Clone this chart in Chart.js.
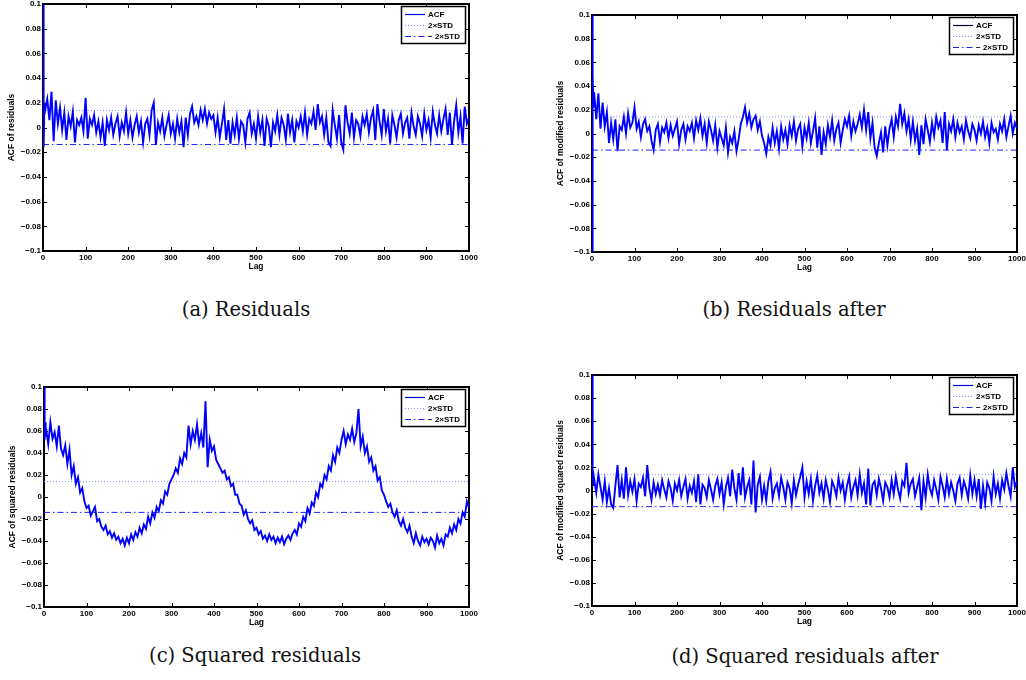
<!DOCTYPE html>
<html>
<head>
<meta charset="utf-8">
<script src="https://cdn.jsdelivr.net/npm/chart.js@4.4.1/dist/chart.umd.min.js"></script>
<style>
  body { margin: 0; background: #fff; width: 1026px; height: 680px; position: relative; overflow: hidden; }
  canvas { position: absolute; }
  .cap { position: absolute; font-family: "DejaVu Serif", serif; font-size: 19.5px; color: #111; white-space: nowrap; transform: translate(-50%, -50%); }
</style>
</head>
<body>
<canvas id="chartA"></canvas>
<canvas id="chartB"></canvas>
<canvas id="chartC"></canvas>
<canvas id="chartD"></canvas>
<script>
// ACF values, in units of 0.001
// lags 0..4 one by one, then every 5th lag up to 1000
const headLags = [0, 1, 2, 3, 4];
const LAG_STEP = 5;
const MAX_LAG = 1000;
const UNIT = 0.001;

const acfResid = [1000, 18, -16, 12, 20,
  14, 23, 6, 29, -11, 22, 3, 16, -2, 12,
  -10, 9, 1, 13, -12, 6, 2, 8, -3, 24,
  -9, 7, 2, 10, -4, 5, -8, 4, -15, 6,
  -2, 8, -6, 3, 9, -7, 4, -3, 12, -5,
  6, -8, 2, 9, -4, 5, -12, 3, 7, -6,
  14, 20, -14, 4, -3, 8, -7, 2, 10, -5,
  3, -9, 7, -4, 5, -16, 8, -6, 11, 17,
  4, 9, 2, 14, 6, 15, 3, 12, 7, 10,
  -4, 8, -8, 3, 15, -10, 6, -13, 4, -6,
  8, -9, 5, 2, -12, 7, 12, -5, 3, -9,
  9, -4, 6, -15, 7, 1, -16, 4, -3, 10,
  -6, 8, 2, -10, 11, -4, 6, -12, 5, 0,
  9, -3, 12, -6, 7, 3, 13, -2, 19, 4,
  9, -6, 8, -12, -15, 14, 2, -9, 10, -12,
  -18, 18, 4, -5, 12, -8, 6, 3, -7, 9,
  2, 11, -4, 8, 14, -10, 19, 5, -6, 15,
  -3, 7, -13, 10, 2, -8, 6, 11, -5, 4,
  8, -9, 12, 1, -6, 9, 3, -7, 11, -2,
  6, -8, 13, 2, -5, 10, -3, 7, 15, -6,
  12, -14, 5, 18, -4, 9, -13, 17, 3, 8];

const acfResidAfter = [1000, -300, 48, 30, 22,
  35, 12, 34, 4, 26, 6, 18, -8, 9, -5,
  12, -15, 6, 3, 14, 0, 17, 5, 9, 22,
  4, 10, -3, 8, 12, 2, 6, -6, -14, 3,
  8, -7, 5, 1, 9, -4, 7, -2, 4, 10,
  -9, 3, 8, -5, 6, 2, 9, -4, 11, 3,
  13, -2, 8, -8, 10, 3, -6, 7, -12, 2,
  -4, -10, 5, -16, -3, -8, 2, -15, -5, 8,
  14, 22, 9, 17, 5, 12, 15, 3, 10, -2,
  -8, -17, -3, -10, 5, -8, 2, -13, 6, -5,
  3, -9, 7, -2, 10, -6, 4, 8, -11, 5,
  -4, 9, -8, 2, 13, -12, 6, -18, 1, -9,
  7, -3, 11, -6, 4, 9, -8, 3, 12, 6,
  15, -2, 10, 2, 8, 16, 5, 20, 3, 18,
  -4, 9, -12, -19, -8, 1, -16, 6, -10, 4,
  12, -3, 14, 6, 25, 8, 17, 2, 12, -5,
  10, -6, 4, -18, 7, -9, 12, 3, -7, 9,
  -2, 14, 5, 11, -8, 18, -14, 8, 2, 12,
  -3, 9, 1, 6, -5, 11, 2, -4, 8, 3,
  -6, 7, 0, 10, -3, 5, -8, 9, 1, 4,
  -5, 8, 2, 12, -3, 6, 15, 0, 9, 4];

const acfSquared = [1000, 60, 52, 68, 55,
  62, 48, 68, 53, 59, 46, 65, 44, 38, 47,
  30, 43, 20, 28, 12, 18, 4, 8, -4, -10,
  -8, -17, -13, -9, -22, -20, -27, -30, -26, -34,
  -31, -37, -33, -39, -36, -42, -38, -44, -37, -42,
  -34, -39, -32, -36, -28, -33, -25, -29, -18, -24,
  -14, -19, -9, -13, -3, -6, 5, 2, 12, 16,
  20, 26, 22, 35, 30, 40, 36, 65, 48, 60,
  52, 66, 48, 58, 45, 87, 27, 52, 42, 46,
  34, 30, 26, 22, 24, 16, 18, 10, 12, 2,
  2, -6, -8, -16, -12, -20, -24, -21, -30, -28,
  -34, -31, -38, -35, -40, -34, -39, -36, -42, -37,
  -41, -36, -43, -38, -35, -39, -33, -30, -34, -24,
  -27, -18, -22, -10, -15, -5, -8, 4, 0, 12,
  9, 20, 16, 28, 24, 38, 32, 45, 40, 52,
  60, 48, 57, 52, 62, 50, 58, 80, 46, 55,
  40, 46, 32, 36, 24, 28, 15, 18, 6, 2,
  -4, -9, -6, -14, -18, -12, -22, -26, -20, -28,
  -32, -26, -36, -42, -33, -40, -44, -36, -41, -38,
  -43, -37, -40, -46, -35, -42, -38, -44, -34, -36,
  -28, -33, -25, -30, -20, -24, -14, -18, -4, -10];

const acfSquaredAfter = [1000, 20, 8, 12, 4,
  10, -2, 14, 3, -8, 8, -10, 2, -12, -15,
  4, 22, -6, 9, -7, 20, -4, 8, -1, 10,
  -9, 6, 3, 11, -5, 22, 2, -8, 7, -3,
  5, -4, 9, 1, -6, 8, 2, -9, 6, 0,
  9, -5, 3, 10, -7, 4, -2, 8, -10, 14,
  -12, 5, 2, -6, 9, 1, -8, 4, 10, -3,
  7, -12, 3, 11, -5, 18, 2, -8, 15, -4,
  20, -6, 3, 9, -12, 26, -19, 5, 12, -8,
  4, -9, 8, 16, -7, 2, 6, -5, 11, 3,
  -8, 7, 2, -11, 9, -4, 5, 12, 20, -6,
  8, -3, 10, -9, 4, 13, -2, 6, -7, 9,
  1, -10, 8, 3, -5, 11, 0, 7, -8, 4,
  12, -6, 3, 9, -4, 14, -2, 6, -12, 19,
  -13, 5, 8, -4, 10, 2, -9, 7, 3, -6,
  9, -3, 12, 1, -7, 8, 4, 24, -2, 6,
  10, -5, 3, 11, -17, 8, -6, 14, 2, -4,
  9, 1, -8, 12, 4, -6, 10, -3, 7, 0,
  -9, 6, 11, -4, 8, 2, -7, 13, -3, 9,
  -5, 10, -16, 4, -11, 7, 2, -9, 12, -3,
  6, -7, 9, 1, 15, 4, -5, 20, 3, 8];

// confidence band (2 x STD) for each panel
const stdBand = [0.0138, 0.014, 0.014, 0.014];

const yTitles = ["ACF of residuals", "ACF of modified residuals",
  "ACF of squared residuals", "ACF of modified squared residuals"];
const captions = ["(a) Residuals", "(b) Residuals after",
  "(c) Squared residuals", "(d) Squared residuals after"];
const legendLabels = ["ACF", "2\u00d7STD", "\u2212 2\u00d7STD"];

const lags = headLags.slice();
for (let l = LAG_STEP; l <= MAX_LAG; l += LAG_STEP) lags.push(l);

const FONT_FAMILY = "'Liberation Sans', Arial, sans-serif";
const tickFont = { family: FONT_FAMILY, size: 8, weight: "bold" };
const titleFont = { family: FONT_FAMILY, size: 8.5, weight: "bold" };

// plot box [left, top, right, bottom] of each panel on the page
const panels = [
  { id: "chartA", box: [43, 4, 469, 251], acf: acfResid, std: stdBand[0], yTitle: yTitles[0], legendAcf: "#0000ff" },
  { id: "chartB", box: [592, 15, 1017, 252], acf: acfResidAfter, std: stdBand[1], yTitle: yTitles[1], legendAcf: "#000033" },
  { id: "chartC", box: [44, 387, 469, 607], acf: acfSquared, std: stdBand[2], yTitle: yTitles[2], legendAcf: "#0000ff" },
  { id: "chartD", box: [592, 375, 1017, 606], acf: acfSquaredAfter, std: stdBand[3], yTitle: yTitles[3], legendAcf: "#0000ff" }
];
const capPos = [[246, 309], [794, 309], [255, 655], [805, 656]];

// MATLAB style frame with inward ticks
const frame = {
  id: "frame",
  beforeDatasetsDraw(chart) {
    const { ctx, chartArea: ca, scales: { x, y } } = chart;
    ctx.save();
    ctx.strokeStyle = "#000";
    ctx.lineWidth = 1;
    ctx.beginPath();
    x.ticks.forEach(t => {
      const px = Math.round(x.getPixelForValue(t.value)) + 0.5;
      ctx.moveTo(px, ca.bottom); ctx.lineTo(px, ca.bottom - 4);
      ctx.moveTo(px, ca.top); ctx.lineTo(px, ca.top + 4);
    });
    y.ticks.forEach(t => {
      const py = Math.round(y.getPixelForValue(t.value)) + 0.5;
      ctx.moveTo(ca.left, py); ctx.lineTo(ca.left + 4, py);
      ctx.moveTo(ca.right, py); ctx.lineTo(ca.right - 4, py);
    });
    ctx.stroke();
    ctx.lineWidth = 2;
    ctx.strokeRect(Math.round(ca.left), Math.round(ca.top),
      Math.round(ca.right - ca.left), Math.round(ca.bottom - ca.top));
    ctx.restore();
  }
};

// boxed legend in the upper right corner
const legendBox = {
  id: "legendBox",
  afterDatasetsDraw(chart) {
    const { ctx, chartArea: ca } = chart;
    const w = 64, h = 37;
    const x0 = Math.round(ca.right - 4 - w), y0 = Math.round(ca.top + 2);
    ctx.save();
    ctx.fillStyle = "#fff";
    ctx.fillRect(x0, y0, w, h);
    ctx.strokeStyle = "#000";
    ctx.lineWidth = 1.5;
    ctx.strokeRect(x0 + 0.5, y0 + 0.5, w, h);
    ctx.font = "bold 8px " + FONT_FAMILY;
    ctx.textBaseline = "middle";
    chart.data.datasets.forEach((ds, i) => {
      const y = y0 + 8.5 + i * 11;
      ctx.beginPath();
      ctx.setLineDash(ds.borderDash || []);
      ctx.strokeStyle = ds.legendColor || ds.borderColor;
      ctx.lineWidth = i === 0 ? 1.2 : ds.borderWidth;
      ctx.moveTo(x0 + 4, y);
      ctx.lineTo(x0 + 24, y);
      ctx.stroke();
      ctx.setLineDash([]);
      ctx.fillStyle = "#000";
      ctx.fillText(ds.label, x0 + 27, y);
    });
    ctx.restore();
  }
};

const PAD_L = 44, PAD_T = 6, PAD_R = 12, PAD_B = 26;

function makeChart(p) {
  const [L, T, R, B] = p.box;
  const cv = document.getElementById(p.id);
  cv.width = R - L + PAD_L + PAD_R;
  cv.height = B - T + PAD_T + PAD_B;
  cv.style.left = (L - PAD_L) + "px";
  cv.style.top = (T - PAD_T) + "px";

  return new Chart(cv, {
    type: "line",
    data: {
      datasets: [
        { label: legendLabels[0], data: lags.map((x, i) => ({ x, y: p.acf[i] * UNIT })),
          borderColor: "#0000ff", borderWidth: 1.9, pointRadius: 0, legendColor: p.legendAcf },
        { label: legendLabels[1], data: [{ x: 0, y: p.std }, { x: MAX_LAG, y: p.std }],
          borderColor: "#8c8cff", borderWidth: 1, borderDash: [1, 2], pointRadius: 0 },
        { label: legendLabels[2], data: [{ x: 0, y: -p.std }, { x: MAX_LAG, y: -p.std }],
          borderColor: "#2020ff", borderWidth: 1, borderDash: [6, 3, 1.5, 3], pointRadius: 0 }
      ]
    },
    options: {
      responsive: false,
      animation: false,
      devicePixelRatio: 1,
      layout: { padding: { left: 0, top: PAD_T, right: PAD_R, bottom: 0 } },
      plugins: { legend: { display: false }, tooltip: { enabled: false } },
      scales: {
        x: {
          type: "linear", min: 0, max: MAX_LAG,
          ticks: { stepSize: 100, padding: 2, color: "#000", font: tickFont, maxRotation: 0, autoSkip: false,
            callback: v => String(v) },
          grid: { display: false, drawTicks: false },
          border: { display: false },
          title: { display: true, text: "Lag", color: "#000", font: titleFont, padding: { top: 0, bottom: 5 } },
          afterFit(s) { s.height = PAD_B; s.paddingLeft = 0; s.paddingRight = 0; }
        },
        y: {
          type: "linear", min: -0.1, max: 0.1,
          ticks: {
            stepSize: 0.02, padding: 2, color: "#000", font: tickFont,
            callback: v => {
              const r = Math.round(v * 100) / 100;
              return r === 0 ? "0" : String(r).replace("-", "\u2212");
            }
          },
          grid: { display: false, drawTicks: false },
          border: { display: false },
          title: { display: true, text: p.yTitle, color: "#000", font: titleFont, padding: { top: 8, bottom: 0 } },
          afterFit(s) { s.width = PAD_L; s.paddingTop = 0; s.paddingBottom = 0; }
        }
      }
    },
    plugins: [frame, legendBox]
  });
}

panels.forEach(makeChart);

captions.forEach((text, i) => {
  const d = document.createElement("div");
  d.className = "cap";
  d.textContent = text;
  d.style.left = capPos[i][0] + "px";
  d.style.top = capPos[i][1] + "px";
  document.body.appendChild(d);
});
</script>
</body>
</html>
